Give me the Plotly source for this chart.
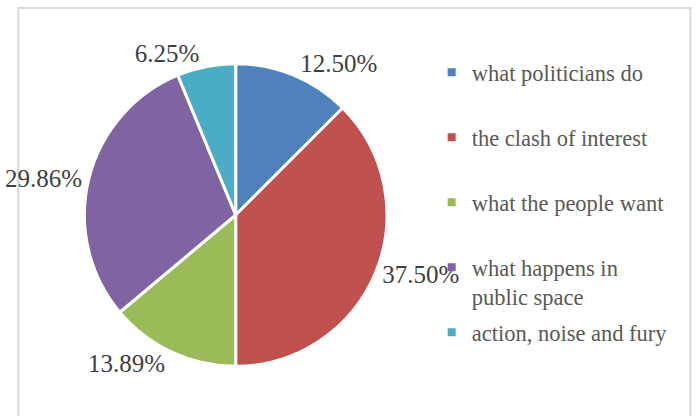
import plotly.graph_objects as go

categories = ["what politicians do", "the clash of interest", "what the people want",
              "what happens in<br>public space", "action, noise and fury"]
values = [12.50, 37.50, 13.89, 29.86, 6.25]
colors = ["#4F81BD", "#C0504D", "#9BBB59", "#8064A2", "#4BACC6"]

W, H = 697, 416


def px(x):
    # the captured page shows x a little stretched and shifted; place elements for that
    return ((x - 10.7) / 0.987) / W


def py(y):
    return 1 - y / H


fig = go.Figure()
fig.add_trace(go.Pie(
    labels=categories, values=values, sort=False, direction="clockwise", rotation=0,
    marker=dict(colors=colors, line=dict(color="white", width=3)),
    texttemplate="%{percent:.2%}", textposition="outside",
    textfont=dict(family="Liberation Serif", size=25, color="#404040"),
    domain=dict(x=[px(78.9), px(385.0)], y=[py(370), py(60)]),
    showlegend=False, hoverinfo="label+percent",
))
for i, (c, col) in enumerate(zip(categories, colors)):
    legend_text = c if "<br>" in c else c + "<br> "
    fig.add_trace(go.Scatter(
        x=[None], y=[None], mode="markers", name=legend_text, legendgroup=f"g{i}",
        marker=dict(symbol="square", size=8, color=col), showlegend=True,
    ))
fig.update_layout(
    width=W, height=H, margin=dict(l=0, r=0, t=0, b=0),
    paper_bgcolor="white", plot_bgcolor="white",
    xaxis=dict(visible=False), yaxis=dict(visible=False),
    legend=dict(x=px(430.2), y=py(51), xanchor="left", yanchor="top",
                font=dict(family="Liberation Serif", size=22.5, color="#595959"),
                tracegroupgap=3.5, valign="top", itemwidth=30,
                bgcolor="rgba(0,0,0,0)"),
    shapes=[dict(type="rect", xref="paper", yref="paper",
                 x0=px(12), x1=px(692), y0=-0.1, y1=py(8),
                 line=dict(color="#D9D9D9", width=2), layer="below")],
)
fig.write_html(
    "out.html", config={"displayModeBar": False},
    post_script="document.body.style.margin='0';document.body.style.overflow='hidden';"
                "document.documentElement.style.overflow='hidden';")
